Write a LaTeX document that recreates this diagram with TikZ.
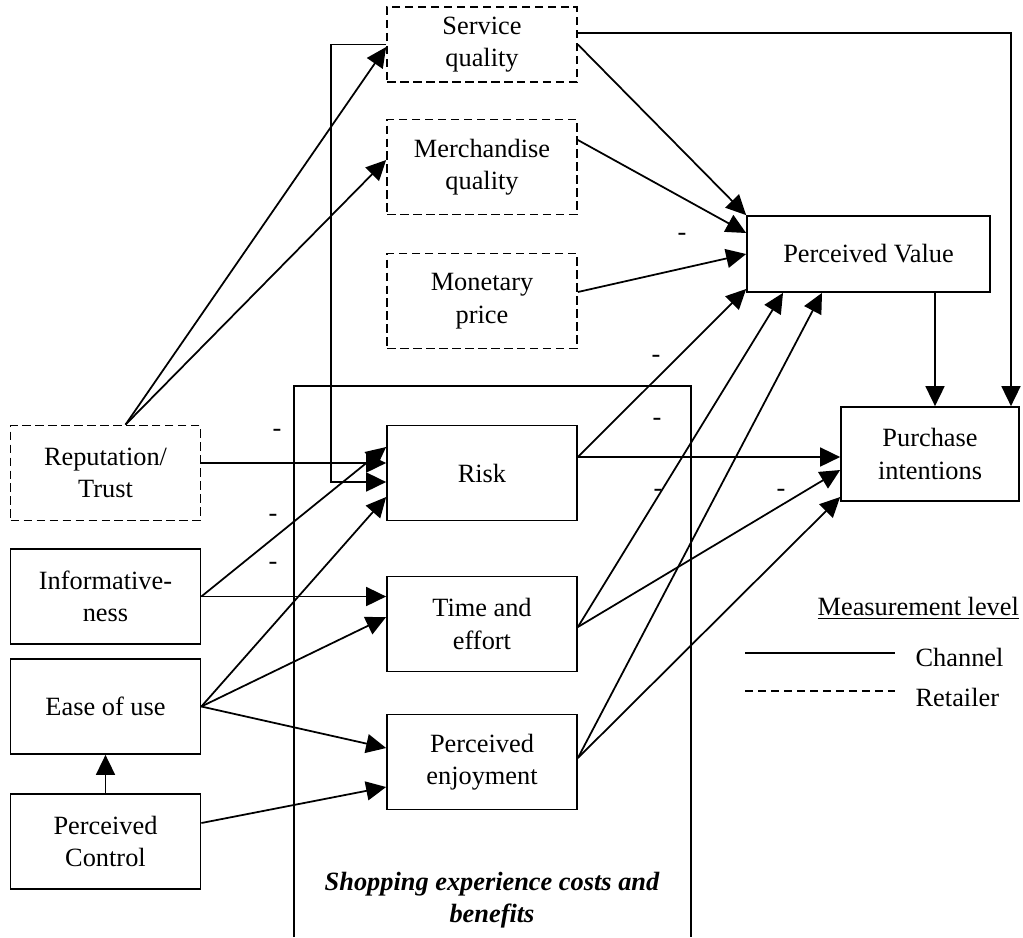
\documentclass[tikz,border=0pt]{standalone}
\usepackage{fontspec}
\setmainfont{Liberation Serif}
\usetikzlibrary{arrows.meta}

\begin{document}
\begin{tikzpicture}[x=0.02cm, y=-0.02cm, line width=1pt,
  every node/.style={font=\fontsize{15}{18.5}\selectfont, align=center, inner sep=1pt},
  box/.style={draw, minimum width=3.8cm, minimum height=1.9cm},
  dbox/.style={box, dash pattern=on 0.17cm off 0.09cm},
  arr/.style={-{Triangle[length=0.4cm,width=0.38cm]}}]
\useasboundingbox (0,0) rectangle (1023,937);

% frame of the shopping experience block
\draw (294,937) -- (294,386) -- (691,386) -- (691,937);
\node[font=\fontsize{15}{18.5}\selectfont\bfseries\itshape] (frame) at (492,900) {Shopping experience costs and\\benefits};

\node[dbox, minimum height=1.5cm] (serv) at (482,44.5) {Service\\quality};
\node[dbox] (merch) at (482,167) {Merchandise\\quality};
\node[dbox] (money) at (482,301) {Monetary\\price};
\node[box, minimum width=4.86cm, minimum height=1.52cm] (value) at (868.5,254) {Perceived Value};
\node[box, minimum width=3.56cm, minimum height=1.88cm] (intent) at (930,454) {Purchase\\intentions};

\node[box] (risk) at (482,473) {Risk};
\node[box] (time) at (482,624) {Time and\\effort};
\node[box] (enjoy) at (482,762) {Perceived\\enjoyment};

\node[dbox] (reput) at (105.5,473) {Reputation/\\Trust};
\node[box] (inform) at (105.5,596.5) {Informative-\\ness};
\node[box] (ease) at (105.5,706.5) {Ease of use};
\node[box] (control) at (105.5,841.5) {Perceived\\Control};

% retailer level
\draw[arr] ([xshift=0.4cm]reput.north) -- ([yshift=-0.05cm]serv.west);
\draw[arr] ([xshift=0.4cm]reput.north) -- ([yshift=0.14cm]merch.west);
\draw[arr] ([yshift=0.2cm]reput.east) -- ([yshift=0.2cm]risk.west);
\draw[arr] (serv.west) -| ([xshift=-1.1cm,yshift=-0.18cm]risk.west) -- ([yshift=-0.18cm]risk.west);

% channel level
\draw[arr] (inform.east) -- ([yshift=0.52cm]risk.west);
\draw[arr] (inform.east) -- (inform.east -| time.west);
\draw[arr] (ease.east) -- ([yshift=-0.48cm]risk.west);
\draw[arr] (ease.east) -- ([yshift=0.14cm]time.west);
\draw[arr] (ease.east) -- ([yshift=0.28cm]enjoy.west);
\draw[arr] ([yshift=0.37cm]control.east) -- ([yshift=-0.5cm]enjoy.west);
\draw[arr] (control.north) -- (ease.south);

% value and intentions
\draw[arr] (serv.east) -- (value.north west);
\draw[arr] ([yshift=0.23cm]serv.east) -| ([xshift=1.62cm]intent.north);
\draw[arr] ([yshift=0.54cm]merch.east) -- ([yshift=0.42cm]value.west);
\draw[arr] ([yshift=0.18cm]money.east) -- (value.west);
\draw[arr] ([yshift=0.32cm]risk.east) -- ([yshift=-0.7cm]value.west);
\draw[arr] ([yshift=0.32cm]risk.east) -- ([yshift=-0.06cm]intent.west);
\draw[arr] ([yshift=-0.06cm]time.east) -- ([xshift=-1.71cm]value.south);
\draw[arr] ([yshift=-0.06cm]time.east) -- ([yshift=-0.32cm]intent.west);
\draw[arr] ([yshift=0.08cm]enjoy.east) -- ([xshift=-0.93cm]value.south);
\draw[arr] ([yshift=0.08cm]enjoy.east) -- ([yshift=-0.86cm]intent.west);
\draw[arr] ([xshift=1.33cm]value.south) -- ([xshift=0.1cm]intent.north);

% minus signs
\foreach \px/\py [count=\i] in {277/433, 273/518, 273/566, 682/237, 656/359, 657/422, 658/493, 781/493}
  \node (minus\i) at (\px,\py) {-};

% legend
\node[anchor=west] (legtitle) at (815,608) {\underline{Measurement level}};
\node[anchor=west] (chan) at (913,657) {Channel};
\node[anchor=west] (retail) at (913,697) {Retailer};
\draw (745,653) -- (895,653);
\draw[dash pattern=on 0.16cm off 0.1cm] (745,691) -- (895,691);
\end{tikzpicture}
\end{document}
